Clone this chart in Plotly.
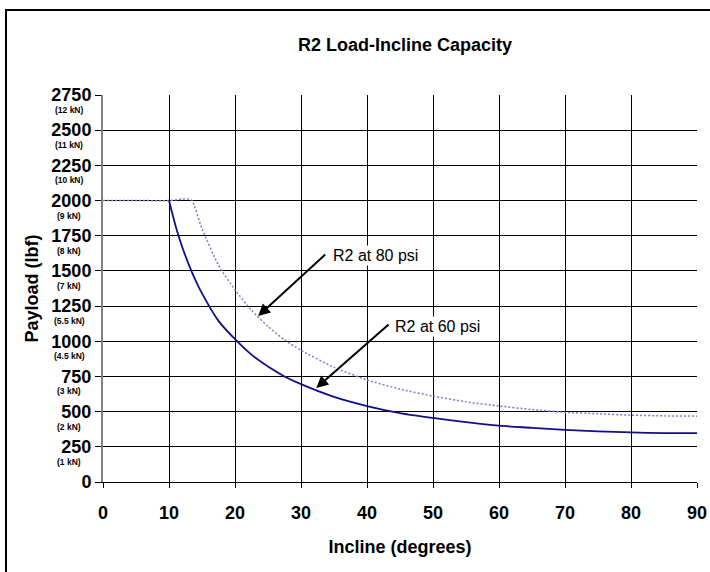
import plotly.graph_objects as go

# ---- data ----
incline_60 = [10, 11, 12, 13, 14, 15, 17.5, 20, 22.5, 25, 27.5, 30, 35, 40, 45, 50, 55, 60, 65, 70, 75, 80, 85, 90]
payload_60 = [2000, 1820, 1670, 1545, 1435, 1340, 1145, 1015, 905, 820, 750, 695, 605, 540, 490, 455, 425, 400, 385, 370, 360, 352, 348, 347]

incline_80 = [0, 5, 10, 12, 13, 13.5, 15, 17.5, 20, 22.5, 25, 27.5, 30, 35, 40, 45, 50, 55, 60, 65, 70, 75, 80, 85, 90]
payload_80 = [2000, 2000, 2000, 2010, 2010, 2000, 1800, 1540, 1365, 1220, 1105, 1010, 935, 815, 725, 660, 610, 570, 540, 515, 495, 485, 475, 470, 468]

y_tick_vals = [0, 250, 500, 750, 1000, 1250, 1500, 1750, 2000, 2250, 2500, 2750]
y_tick_kn = ["", "(1 kN)", "(2 kN)", "(3 kN)", "(4.5 kN)", "(5.5 kN)", "(7 kN)", "(8 kN)",
             "(9 kN)", "(10 kN)", "(11 kN)", "(12 kN)"]
x_tick_vals = [0, 10, 20, 30, 40, 50, 60, 70, 80, 90]

FONT = "Liberation Sans, Arial, sans-serif"

fig = go.Figure()
fig.add_trace(go.Scatter(x=incline_80, y=payload_80, mode="lines", name="R2 at 80 psi",
                         line=dict(color="#7a7ad2", width=1.5, dash="2px,2px",
                                   shape="spline", smoothing=0.5)))
fig.add_trace(go.Scatter(x=incline_60, y=payload_60, mode="lines", name="R2 at 60 psi",
                         line=dict(color="#10108a", width=1.8, shape="spline", smoothing=0.8)))

annotations = []
# kN sub-labels under y tick numbers
for v, t in zip(y_tick_vals, y_tick_kn):
    if t:
        annotations.append(dict(x=-0.057, xref="paper", y=v, yref="y", text="<b>" + t + "</b>",
                                showarrow=False, xanchor="center", yanchor="middle", yshift=-15,
                                font=dict(family=FONT, size=8.5, color="black")))

# arrows
annotations.append(dict(x=23.5, y=1179, xref="x", yref="y", ax=33.9, ay=1626, axref="x", ayref="y",
                        text="", showarrow=True, arrowhead=2, arrowsize=1.2, arrowwidth=2,
                        arrowcolor="black"))
annotations.append(dict(x=32.3, y=668, xref="x", yref="y", ax=43.5, ay=1129, axref="x", ayref="y",
                        text="", showarrow=True, arrowhead=2, arrowsize=1.2, arrowwidth=2,
                        arrowcolor="black"))
annotations.append(dict(x=34.5, y=1612, xref="x", yref="y", text="R2 at 80 psi", showarrow=False,
                        xanchor="left", yanchor="middle", bgcolor="white",
                        font=dict(family=FONT, size=16, color="black")))
annotations.append(dict(x=43.9, y=1108, xref="x", yref="y", text="R2 at 60 psi", showarrow=False,
                        xanchor="left", yanchor="middle", bgcolor="white",
                        font=dict(family=FONT, size=16, color="black")))

W, H = 710, 572
fig.update_layout(
    width=W, height=H,
    margin=dict(l=103, r=13, t=95, b=90),
    paper_bgcolor="white", plot_bgcolor="white",
    showlegend=False,
    font=dict(family=FONT, color="black"),
    title=dict(text="<b>R2 Load-Incline Capacity</b>", x=405 / W, xanchor="center",
               y=1 - 45 / H, yanchor="middle", font=dict(family=FONT, size=18, color="black")),
    annotations=annotations,
    shapes=[dict(type="rect", xref="paper", yref="paper", x0=-0.1633, x1=1.2, y0=-0.4, y1=1.2196,
                 line=dict(color="black", width=2), fillcolor="rgba(0,0,0,0)", layer="below")],
)

fig.update_xaxes(
    range=[0, 90], tickvals=x_tick_vals, ticktext=["<b>%d</b>" % v for v in x_tick_vals],
    showgrid=True, gridcolor="black", gridwidth=1, zeroline=False, automargin=False,
    showline=True, linecolor="black", linewidth=1, mirror=False,
    ticks="outside", ticklen=5, tickcolor="black", ticklabelstandoff=9,
    tickfont=dict(family=FONT, size=18, color="black"),
    title=dict(text="<b>Incline (degrees)</b>", font=dict(family=FONT, size=18, color="black"), standoff=18),
)
fig.update_yaxes(
    range=[0, 2750], tickvals=y_tick_vals, ticktext=["<b>%d</b>" % v for v in y_tick_vals],
    showgrid=True, gridcolor="black", gridwidth=1, zeroline=False, automargin=False,
    showline=True, linecolor="#808080", linewidth=2,
    ticks="outside", ticklen=6, tickcolor="black",
    tickfont=dict(family=FONT, size=18, color="black"),
    title=dict(text="<b>Payload (lbf)</b>", font=dict(family=FONT, size=18, color="black"), standoff=8),
)

fig.write_html("out.html", config={"displayModeBar": False},
               post_script="document.body.style.margin='0';document.body.style.overflow='hidden';")
